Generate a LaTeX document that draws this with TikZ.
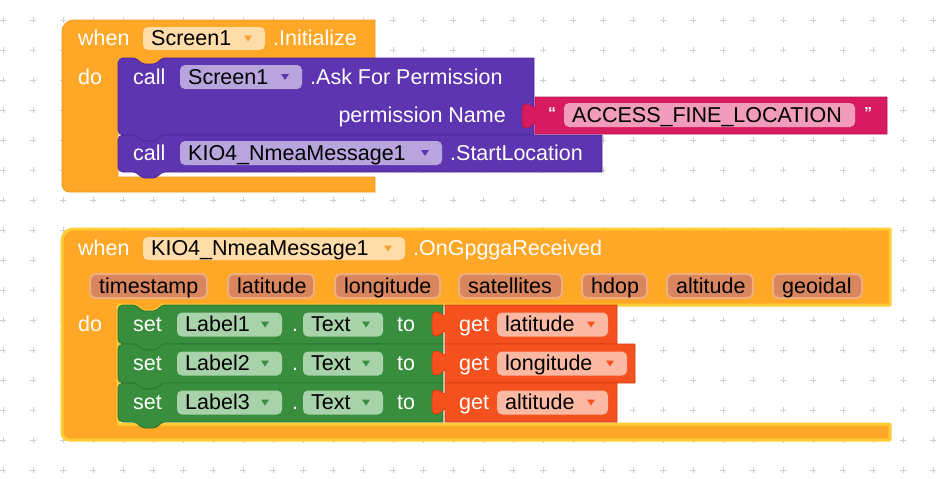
\documentclass[tikz,border=0pt]{standalone}
\usepackage{fontspec}
\newfontfamily\blockfont{Liberation Sans}
\definecolor{evorange}{HTML}{FFA726}
\definecolor{evorangeD}{HTML}{EE9A20}
\definecolor{evchip}{HTML}{FFDCA8}
\definecolor{evtri}{HTML}{F7A030}
\definecolor{purp}{HTML}{5E35B1}
\definecolor{purpD}{HTML}{4B2896}
\definecolor{purpchip}{HTML}{B8A5DE}
\definecolor{pinkblk}{HTML}{D81B60}
\definecolor{pinkD}{HTML}{B8144F}
\definecolor{pinkchip}{HTML}{F09CBA}
\definecolor{grn}{HTML}{388E3C}
\definecolor{grnD}{HTML}{2B7430}
\definecolor{grnchip}{HTML}{A8D3AA}
\definecolor{getred}{HTML}{F4511E}
\definecolor{getredD}{HTML}{D43E10}
\definecolor{getchip}{HTML}{FBB8A2}
\definecolor{paramfill}{HTML}{D9865F}
\definecolor{paramedge}{HTML}{EFAE80}
\definecolor{hilite}{HTML}{FFCC33}
\definecolor{gridc}{HTML}{CFCFCF}
\tikzset{
  txtw/.style={font=\blockfont\fontsize{21.5}{24}\selectfont, text=white, inner sep=0pt, anchor=base west},
  txtb/.style={font=\blockfont\fontsize{21.5}{24}\selectfont, text=black, inner sep=0pt, anchor=base west},
  quot/.style={font=\blockfont\bfseries\fontsize{16}{18}\selectfont, text=white, inner sep=0pt, anchor=base west},
  gridcross/.style={draw=gridc, line width=1pt},
}
% dropdown field chip: name, x1, y1, x2, y2, fill, triangle colour, text
\newcommand\ddchip[8]{%
  \fill[#6, rounded corners=5pt] (#2,#3) rectangle (#4,#5);
  \node[txtb] (#1) at ({#2+8},{(#3+#5)/2+7}) {#8};
  \fill[#7] ({#4-21},{(#3+#5)/2-3}) -- ({#4-13},{(#3+#5)/2-3}) -- ({#4-17},{(#3+#5)/2+3}) -- cycle;
}
% statement block: left, top, right, bottom, fill, stroke
\newcommand\stmtblock[6]{%
  \filldraw[fill=#5, draw=#6, line width=0.8pt]
   (#1,{#2+5}) .. controls (#1,{#2+2}) and ({#1+2},#2) .. ({#1+5},#2)
   -- ({#1+15},#2) .. controls ({#1+20},#2) and ({#1+22},{#2+6}) .. ({#1+27},{#2+6})
   -- ({#1+35},{#2+6}) .. controls ({#1+40},{#2+6}) and ({#1+42},#2) .. ({#1+47},#2)
   -- (#3,#2) -- (#3,#4)
   -- ({#1+47},#4) .. controls ({#1+42},#4) and ({#1+40},{#4+6}) .. ({#1+35},{#4+6})
   -- ({#1+27},{#4+6}) .. controls ({#1+22},{#4+6}) and ({#1+20},#4) .. ({#1+15},#4)
   -- ({#1+5},#4) .. controls ({#1+2},#4) and (#1,{#4-2}) .. (#1,{#4-5}) -- cycle;
}
% value block with left puzzle tab: left, top, right, bottom, fill, stroke
\newcommand\valblock[6]{%
  \filldraw[fill=#5, draw=#6, line width=0.8pt]
   (#1,#2) -- (#3,#2) -- (#3,#4) -- (#1,#4) -- (#1,{#2+26})
   .. controls ({#1-2},{#2+26}) and ({#1-4},{#2+31}) .. ({#1-9},{#2+31})
   .. controls ({#1-13},{#2+31}) and ({#1-13},{#2+28}) .. ({#1-13},{#2+21})
   -- ({#1-13},{#2+15})
   .. controls ({#1-13},{#2+9}) and ({#1-12},{#2+7}) .. ({#1-9},{#2+7})
   .. controls ({#1-4},{#2+7}) and ({#1-2},{#2+11}) .. (#1,{#2+11}) -- cycle;
}
\begin{document}
\begin{tikzpicture}[x=1pt,y=-1pt]
\useasboundingbox (0,0) rectangle (948,479);
\fill[white] (0,0) rectangle (948,479);
% grid of crosses
\foreach \i in {0,...,31}{
  \foreach \j in {0,...,15}{
    \draw[gridcross] ({3+30*\i-3},{20+30*\j}) -- ({3+30*\i+3},{20+30*\j})
                     ({3+30*\i},{20+30*\j-3}) -- ({3+30*\i},{20+30*\j+3});
  }
}
% ---------- event block 1 ----------
\filldraw[fill=evorange, draw=evorangeD, line width=0.8pt]
  (62,32) .. controls (62,25) and (67,20) .. (74,20) -- (375,20) -- (375,58)
  -- (165,58) .. controls (160,58) and (158,64) .. (153,64) -- (145,64)
  .. controls (140,64) and (138,58) .. (133,58) -- (118,58) -- (118,177)
  -- (375,177) -- (375,192) -- (70,192) .. controls (65,192) and (62,189) .. (62,184) -- cycle;
\node[txtw] (when1) at (78,45) {when};
\ddchip{scr1}{143}{27}{265}{50}{evchip}{evtri}{Screen1}
\node[txtw] (init) at (273,45) {.Initialize};
\node[txtw] (do1) at (78,84) {do};
% call Ask For Permission
\stmtblock{118}{58}{534}{135}{purp}{purpD}
\node[txtw] (call1) at (133,84) {call};
\ddchip{scr2}{180}{65}{302}{89}{purpchip}{purp}{Screen1}
\node[txtw] (ask) at (310,84) {.Ask For Permission};
\node[txtw, anchor=base east] (permname) at (506,122) {permission Name};
% text block
\valblock{535}{97}{887}{134}{pinkblk}{pinkD}
\node[quot] (qopen) at (548,118) {“};
\fill[pinkchip, rounded corners=5pt] (564,103) rectangle (855,127);
\node[txtb] (perm) at (572,122) {ACCESS\_FINE\_LOCATION};
\node[quot] (qclose) at (864,118) {”};
% call StartLocation
\stmtblock{118}{135}{602}{172}{purp}{purpD}
\node[txtw] (call2) at (133,160) {call};
\ddchip{kio1}{180}{141}{442}{165}{purpchip}{purp}{KIO4\_NmeaMessage1}
\node[txtw] (startloc) at (450,160) {.StartLocation};
% ---------- event block 2 ----------
\filldraw[fill=evorange, draw=hilite, line width=3pt, line join=round]
  (62,241) .. controls (62,234) and (67,229) .. (74,229) -- (890,229) -- (890,305)
  -- (165,305) .. controls (160,305) and (158,311) .. (153,311) -- (145,311)
  .. controls (140,311) and (138,305) .. (133,305) -- (118,305) -- (118,424)
  -- (890,424) -- (890,440) -- (70,440) .. controls (65,440) and (62,437) .. (62,432) -- cycle;
\node[txtw] (when2) at (78,255) {when};
\ddchip{kio2}{143}{237}{405}{260}{evchip}{evtri}{KIO4\_NmeaMessage1}
\node[txtw] (ongp) at (413,255) {.OnGpggaReceived};
\foreach \xa/\xb/\t in {90/207/timestamp, 228/314/latitude, 335/440/longitude,
    459/562/satellites, 582/647/hdop, 667/753/altitude, 773/862/geoidal}{
  \filldraw[fill=paramfill, draw=paramedge, line width=2pt, rounded corners=6pt]
    (\xa,274) rectangle (\xb,298);
  \node[txtb] (par-\t) at ({\xa+9},293) {\t};
}
\node[txtw] (do2) at (78,331) {do};
\foreach \T/\lab/\var/\R/\C [count=\k] in {305/Label1/latitude/617/608,
    344/Label2/longitude/635/627, 383/Label3/altitude/617/608}{
  \pgfmathsetmacro{\B}{\T+39}
  \pgfmathsetmacro{\c}{\T+19.5}
  \stmtblock{118}{\T}{443}{\B}{grn}{grnD}
  \valblock{445}{\T}{\R}{\B}{getred}{getredD}
  \node[txtw] (set\k) at (133,{\c+7}) {set};
  \ddchip{lab\k}{177}{\c-12}{282}{\c+12}{grnchip}{grn}{\lab}
  \node[txtw] (dot\k) at (292,{\c+7}) {.};
  \ddchip{txt\k}{303}{\c-12}{383}{\c+12}{grnchip}{grn}{Text}
  \node[txtw] (to\k) at (397,{\c+7}) {to};
  \node[txtw] (get\k) at (459,{\c+7}) {get};
  \ddchip{var\k}{497}{\c-12}{\C}{\c+12}{getchip}{getred}{\var}
}
\end{tikzpicture}
\end{document}
